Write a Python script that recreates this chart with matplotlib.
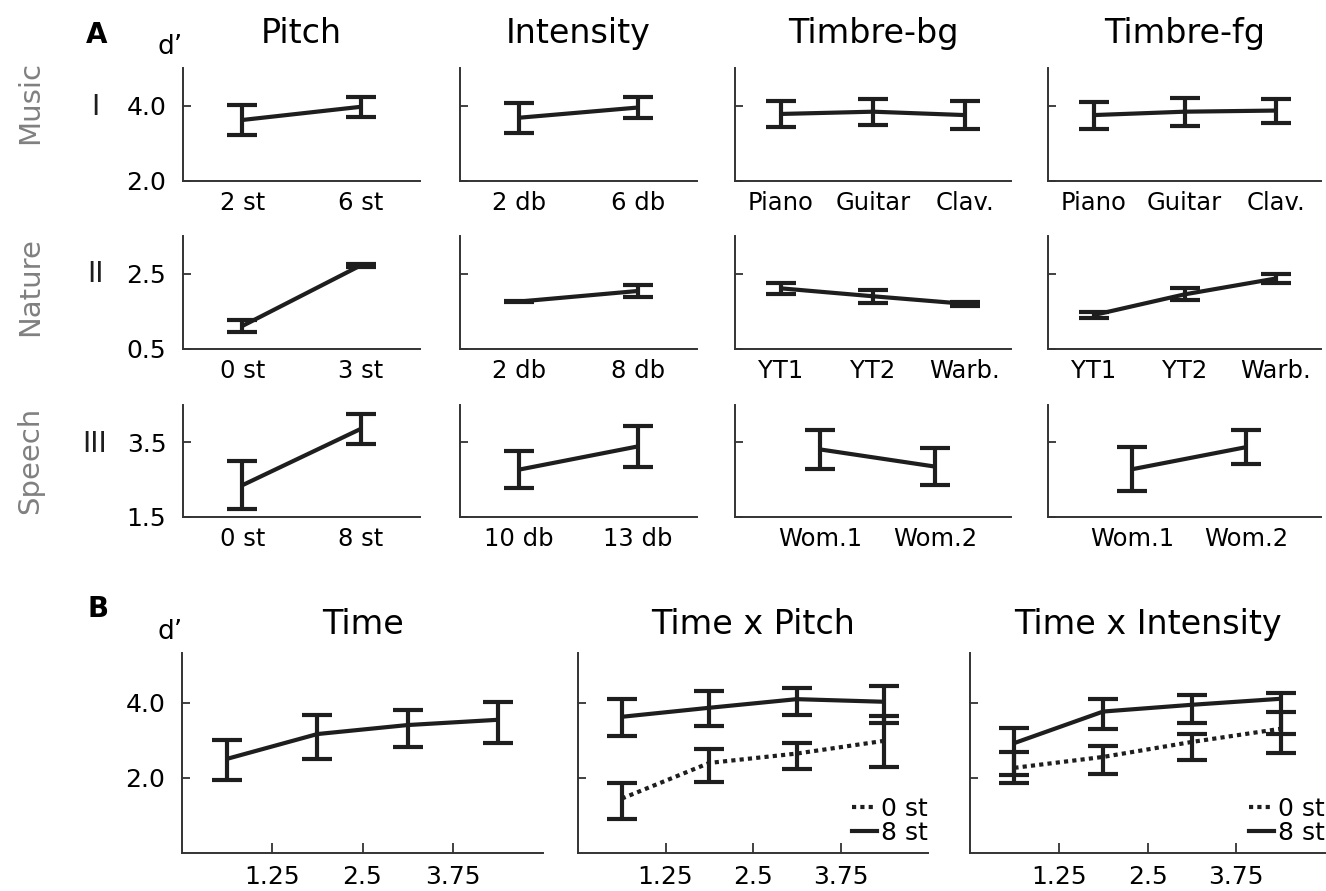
import matplotlib.pyplot as plt
from matplotlib.lines import Line2D

# ---- panel A data (d' mean and error) ----
rows = ["Music", "Nature", "Speech"]
numerals = ["I", "II", "III"]
features = ["Pitch", "Intensity", "Timbre-bg", "Timbre-fg"]

music_labels = [["2 st", "6 st"], ["2 db", "6 db"],
                ["Piano", "Guitar", "Clav."], ["Piano", "Guitar", "Clav."]]
nature_labels = [["0 st", "3 st"], ["2 db", "8 db"],
                 ["YT1", "YT2", "Warb."], ["YT1", "YT2", "Warb."]]
speech_labels = [["0 st", "8 st"], ["10 db", "13 db"],
                 ["Wom.1", "Wom.2"], ["Wom.1", "Wom.2"]]

music_mean = [[3.62, 3.97], [3.68, 3.95], [3.78, 3.84, 3.75], [3.75, 3.84, 3.87]]
music_err = [[0.39, 0.27], [0.40, 0.29], [0.35, 0.35, 0.38], [0.36, 0.37, 0.32]]
nature_mean = [[1.11, 2.72], [1.76, 2.04], [2.11, 1.90, 1.70], [1.40, 1.95, 2.37]]
nature_err = [[0.15, 0.04], [0.02, 0.17], [0.145, 0.17, 0.05], [0.09, 0.16, 0.13]]
speech_mean = [[2.35, 3.86], [2.77, 3.39], [3.31, 2.85], [2.78, 3.37]]
speech_err = [[0.64, 0.41], [0.49, 0.56], [0.53, 0.49], [0.59, 0.45]]

row_ylim = [(2.0, 5.0), (0.5, 3.5), (1.5, 4.5)]
row_yticks = [[2.0, 4.0], [0.5, 2.5], [1.5, 3.5]]

# ---- panel B data (mean, lower and upper bound) ----
time_bins = [0.625, 1.875, 3.125, 4.375]
b_ticks = [1.25, 2.5, 3.75]
b_titles = ["Time", "Time x Pitch", "Time x Intensity"]

time_mean = [2.51, 3.17, 3.41, 3.55]
time_lo = [1.95, 2.51, 2.83, 2.93]
time_hi = [3.01, 3.68, 3.81, 4.03]

tp_8st_mean = [3.63, 3.87, 4.10, 4.03]
tp_8st_lo = [3.12, 3.39, 3.68, 3.47]
tp_8st_hi = [4.11, 4.32, 4.40, 4.45]
tp_0st_mean = [1.45, 2.40, 2.65, 2.99]
tp_0st_lo = [0.91, 1.89, 2.24, 2.29]
tp_0st_hi = [1.87, 2.77, 2.93, 3.65]

ti_8st_mean = [2.93, 3.77, 3.95, 4.11]
ti_8st_lo = [2.08, 3.31, 3.47, 3.17]
ti_8st_hi = [3.33, 4.11, 4.21, 4.27]
ti_0st_mean = [2.27, 2.56, 2.96, 3.31]
ti_0st_lo = [1.87, 2.11, 2.48, 2.67]
ti_0st_hi = [2.69, 2.85, 3.17, 3.76]

W, H = 1326, 891
INK = "#1e1e1e"
SPINE = "#333333"
LW = 3.0
TICK_FS = 18
TITLE_FS = 24

fig = plt.figure(figsize=(W / 100, H / 100), dpi=100)


def add_ax(x0, x1, y0, y1):
    return fig.add_axes([x0 / W, 1 - y1 / H, (x1 - x0) / W, (y1 - y0) / H])


def style(ax):
    for s in ["top", "right"]:
        ax.spines[s].set_visible(False)
    for s in ["left", "bottom"]:
        ax.spines[s].set_color(SPINE)
        ax.spines[s].set_linewidth(1.4)
    ax.tick_params(axis="y", direction="in", length=6, width=1.3,
                   color=SPINE, labelsize=TICK_FS, pad=12)


def draw(ax, x, mean, lo, hi, ls="-"):
    ax.plot(x, mean, color=INK, lw=LW, ls=ls, solid_capstyle="butt",
            dash_capstyle="butt", zorder=3)
    yerr = [[m - l for m, l in zip(mean, lo)], [h - m for m, h in zip(mean, hi)]]
    ax.errorbar(x, mean, yerr=yerr, fmt="none", ecolor=INK, elinewidth=LW,
                capsize=11, capthick=LW, zorder=2)


# ---- panel A ----
col_x = [(183, 420), (460, 697), (735, 1011), (1048, 1321)]
row_y = [(68, 181), (236, 349), (405, 517)]
all_labels = [music_labels, nature_labels, speech_labels]
all_mean = [music_mean, nature_mean, speech_mean]
all_err = [music_err, nature_err, speech_err]

for r in range(3):
    for c in range(4):
        ax = add_ax(*col_x[c], *row_y[r])
        style(ax)
        labels = all_labels[r][c]
        mean = all_mean[r][c]
        err = all_err[r][c]
        n = len(labels)
        x = list(range(1, n + 1))
        draw(ax, x, mean, [m - e for m, e in zip(mean, err)],
             [m + e for m, e in zip(mean, err)])
        if n == 3:
            ax.set_xlim(0.5, 3.5)
        elif c >= 2:
            ax.set_xlim(0.26, 2.66)
        else:
            ax.set_xlim(0.5, 2.5)
        ax.set_ylim(*row_ylim[r])
        ax.set_xticks(x)
        ax.set_xticklabels(labels)
        ax.tick_params(axis="x", length=0, labelsize=TICK_FS - 0.5, pad=7)
        ax.set_yticks(row_yticks[r])
        if c == 0:
            ax.set_yticklabels([f"{v:.1f}" for v in row_yticks[r]])
        else:
            ax.set_yticklabels([])
        if r == 0:
            ax.set_title(features[c], fontsize=TITLE_FS, pad=18)

# row names and numerals
row_cy = [102, 287, 460]
num_cy = [107, 274, 444]
for r in range(3):
    fig.text(30 / W, 1 - row_cy[r] / H, rows[r], rotation=90, color="#808080",
             fontsize=21, ha="center", va="center")
    fig.text(95 / W, 1 - num_cy[r] / H, numerals[r], color=INK,
             fontsize=20, ha="center", va="center")

fig.text(97 / W, 1 - 35 / H, "A", fontsize=20, fontweight="bold",
         ha="center", va="center")
fig.text(170 / W, 1 - 47 / H, "d\u2019", fontsize=19, ha="center", va="center")

# ---- panel B ----
b_x = [(182, 543), (578, 928), (970, 1325)]
b_y = (653, 853)
series_b = [
    [(time_mean, time_lo, time_hi, "-", None)],
    [(tp_0st_mean, tp_0st_lo, tp_0st_hi, (0, (1, 1)), "0 st"),
     (tp_8st_mean, tp_8st_lo, tp_8st_hi, "-", "8 st")],
    [(ti_0st_mean, ti_0st_lo, ti_0st_hi, (0, (1, 1)), "0 st"),
     (ti_8st_mean, ti_8st_lo, ti_8st_hi, "-", "8 st")],
]

for i in range(3):
    ax = add_ax(*b_x[i], *b_y)
    style(ax)
    for mean, lo, hi, ls, lab in series_b[i]:
        draw(ax, time_bins, mean, lo, hi, ls=ls)
    ax.set_xlim(0, 5.0)
    ax.set_ylim(0, 5.33)
    ax.set_xticks(b_ticks)
    ax.set_xticklabels([f"{v:g}" for v in b_ticks])
    ax.tick_params(axis="x", direction="in", length=7, width=1.3,
                   color=SPINE, labelsize=TICK_FS, pad=9)
    ax.set_yticks([2.0, 4.0])
    if i == 0:
        ax.set_yticklabels(["2.0", "4.0"])
    else:
        ax.set_yticklabels([])
    ax.set_title(b_titles[i], fontsize=TITLE_FS, pad=14)
    if len(series_b[i]) > 1:
        handles = [Line2D([], [], color=INK, lw=LW, ls=s[3], dash_capstyle="butt")
                   for s in series_b[i]]
        ax.legend(handles, [s[4] for s in series_b[i]], loc="lower right",
                  bbox_to_anchor=(1.0, 0.04), frameon=False, fontsize=TICK_FS,
                  handlelength=1.0, handletextpad=0.15, labelspacing=0.0,
                  borderpad=0.0, borderaxespad=0.0)

fig.text(98 / W, 1 - 609 / H, "B", fontsize=20, fontweight="bold",
         ha="center", va="center")
fig.text(170 / W, 1 - 632 / H, "d\u2019", fontsize=19, ha="center", va="center")

fig.savefig("out.png", dpi=100)
